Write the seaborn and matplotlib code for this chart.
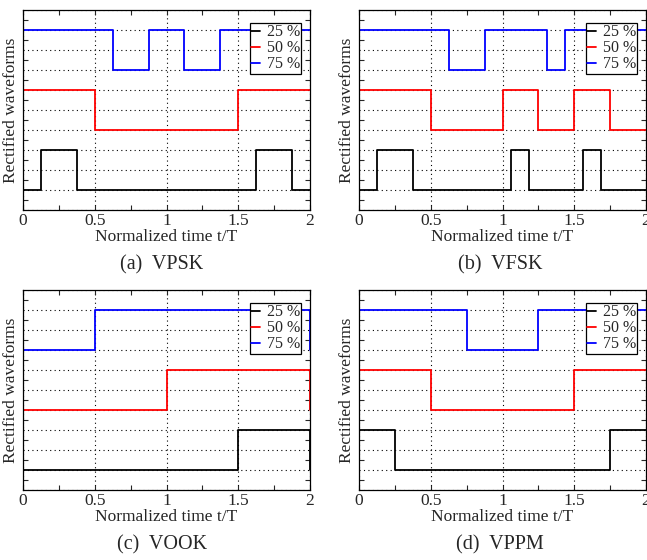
import numpy as np
import pandas as pd
import matplotlib
matplotlib.use("Agg")
import matplotlib.pyplot as plt
import seaborn as sns
from matplotlib.ticker import MultipleLocator, NullFormatter

# ---------------- data ----------------
duty_labels = ["25 %", "50 %", "75 %"]
colors = ["black", "red", "blue"]
base_levels = [1, 4, 7]   # low level of each waveform
amplitude = 2

# VPSK
vpsk_25_t = [0, 0.125, 0.375, 1.625, 1.875, 2]
vpsk_25_s = [0, 1, 0, 1, 0, 0]
vpsk_50_t = [0, 0.5, 1.5, 2]
vpsk_50_s = [1, 0, 1, 1]
vpsk_75_t = [0, 0.625, 0.875, 1.125, 1.375, 2]
vpsk_75_s = [1, 0, 1, 0, 1, 1]

# VFSK
vfsk_25_t = [0, 0.125, 0.375, 1.0625, 1.1875, 1.5625, 1.6875, 2]
vfsk_25_s = [0, 1, 0, 1, 0, 1, 0, 0]
vfsk_50_t = [0, 0.5, 1.0, 1.25, 1.5, 1.75, 2]
vfsk_50_s = [1, 0, 1, 0, 1, 0, 0]
vfsk_75_t = [0, 0.625, 0.875, 1.3125, 1.4375, 1.8125, 1.9375, 2]
vfsk_75_s = [1, 0, 1, 0, 1, 0, 1, 1]

# VOOK
vook_25_t = [0, 1.5, 2, 2]
vook_25_s = [0, 1, 1, 0]
vook_50_t = [0, 1.0, 2, 2]
vook_50_s = [0, 1, 1, 0]
vook_75_t = [0, 0.5, 2, 2]
vook_75_s = [0, 1, 1, 0]

# VPPM
vppm_25_t = [0, 0.25, 1.75, 2]
vppm_25_s = [1, 0, 1, 1]
vppm_50_t = [0, 0.5, 1.5, 2]
vppm_50_s = [1, 0, 1, 1]
vppm_75_t = [0, 0.75, 1.25, 2]
vppm_75_s = [1, 0, 1, 1]

x_ticks = [0, 0.5, 1, 1.5, 2]
x_tick_labels = ["0", "0.5", "1", "1.5", "2"]
captions = ["(a)  VPSK", "(b)  VFSK", "(c)  VOOK", "(d)  VPPM"]

panels = [
    [(vpsk_25_t, vpsk_25_s), (vpsk_50_t, vpsk_50_s), (vpsk_75_t, vpsk_75_s)],
    [(vfsk_25_t, vfsk_25_s), (vfsk_50_t, vfsk_50_s), (vfsk_75_t, vfsk_75_s)],
    [(vook_25_t, vook_25_s), (vook_50_t, vook_50_s), (vook_75_t, vook_75_s)],
    [(vppm_25_t, vppm_25_s), (vppm_50_t, vppm_50_s), (vppm_75_t, vppm_75_s)],
]

# ---------------- style ----------------
sns.set_style("ticks")
plt.rcParams["font.family"] = ["Liberation Serif", "DejaVu Serif"]
plt.rcParams["axes.linewidth"] = 0.9

W, H = 647, 560
fig = plt.figure(figsize=(W / 100, H / 100), dpi=100)

ax_w, ax_h = 287, 200
boxes = [(23, 10), (359, 10), (23, 290), (359, 290)]  # left, top in px
cap_pos = [(162, 265), (500, 265), (162, 545), (500, 545)]

for i, series in enumerate(panels):
    l, t = boxes[i]
    ax = fig.add_axes([l / W, 1 - (t + ax_h) / H, ax_w / W, ax_h / H])
    rows = []
    for lab, base, (ts, ss) in zip(duty_labels, base_levels, series):
        for k, (tt, s) in enumerate(zip(ts, ss)):
            rows.append({"t": tt, "y": base + amplitude * s, "duty": lab, "order": k})
    df = pd.DataFrame(rows)
    sns.lineplot(data=df, x="t", y="y", hue="duty", hue_order=duty_labels,
                 palette=colors, drawstyle="steps-post", estimator=None,
                 sort=False, units="duty", legend=False, linewidth=1.3, ax=ax)
    ax.set_xlim(0, 2)
    ax.set_ylim(0, 10)
    ax.set_xticks(x_ticks)
    ax.set_xticklabels(x_tick_labels)
    ax.xaxis.set_minor_locator(MultipleLocator(0.25))
    ax.yaxis.set_major_locator(MultipleLocator(1))
    ax.yaxis.set_minor_locator(MultipleLocator(0.5))
    ax.yaxis.set_major_formatter(NullFormatter())
    ax.tick_params(which="both", direction="in", top=True, right=True,
                   length=3.5, width=0.8, labelsize=12.5, pad=2)
    ax.tick_params(axis="y", which="major", length=0)
    ax.grid(True, which="major", color="black", linewidth=0.8,
            linestyle=(0, (1, 3)))
    for sp in ax.spines.values():
        sp.set_color("black")
        sp.set_zorder(5)
    ax.set_xlabel("Normalized time t/T", fontsize=12.5, labelpad=0)
    ax.set_ylabel("Rectified waveforms", fontsize=12.5, labelpad=1)
    handles = ax.get_lines()[:3]
    leg = ax.legend(handles, duty_labels, loc="upper right",
                    bbox_to_anchor=(0.969, 0.935), borderaxespad=0,
                    fontsize=11.5, handlelength=0.55, handletextpad=0.4,
                    labelspacing=0.0, borderpad=0.08, frameon=True,
                    fancybox=False, framealpha=1, edgecolor="black")
    leg.get_frame().set_linewidth(0.9)
    leg.set_zorder(6)
    cx, cy = cap_pos[i]
    fig.text(cx / W, 1 - cy / H, captions[i], ha="center", va="center",
             fontsize=14.5)

fig.savefig("out.png", dpi=100)
